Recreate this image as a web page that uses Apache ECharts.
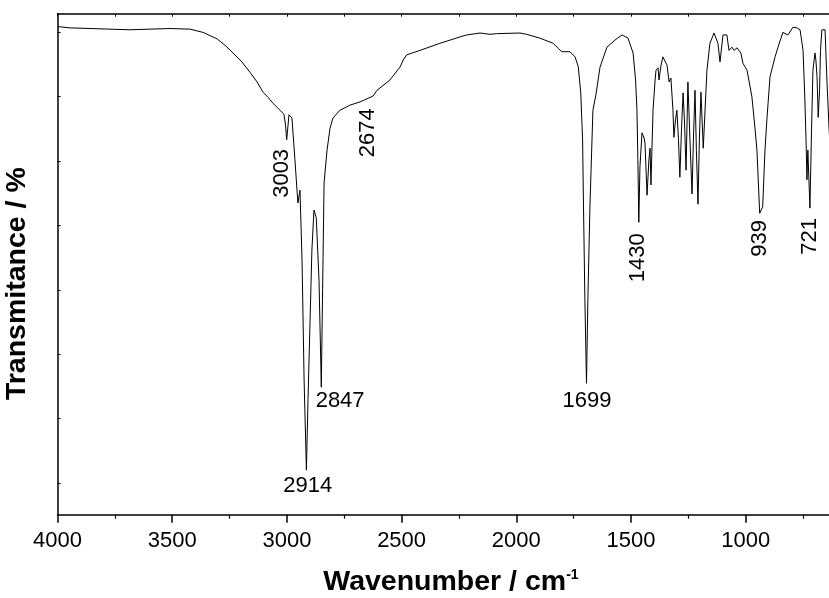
<!DOCTYPE html>
<html>
<head>
<meta charset="utf-8">
<script src="https://cdn.jsdelivr.net/npm/echarts@6/dist/echarts.min.js"></script>
<style>
  html, body { margin: 0; padding: 0; background: #fff; }
  #chart { width: 829px; height: 598px; }
</style>
</head>
<body>
<div id="chart"></div>
<script>
// IR spectrum
const wavenumber = [
  4000, 3946, 3858, 3771, 3684, 3597, 3510, 3422, 3366, 3305, 3270, 3235, 3196, 3161, 3130, 3104,
  3082, 3061, 3030, 3013, 3006, 3001, 2995, 2991, 2978, 2965, 2956, 2952, 2943, 2934, 2925, 2915,
  2908, 2899, 2891, 2882, 2875, 2872, 2867, 2860, 2850, 2845, 2838, 2825, 2812, 2799, 2769, 2725,
  2681, 2625, 2607, 2551, 2507, 2493, 2478, 2420, 2333, 2245, 2216, 2158, 2115, 2086, 1984, 1955,
  1897, 1839, 1817, 1802, 1766, 1744, 1730, 1719, 1711, 1707, 1701, 1694, 1688, 1679, 1666, 1653,
  1635, 1605, 1570, 1539, 1513, 1491, 1480, 1474, 1470, 1466, 1461, 1452, 1443, 1439, 1430, 1422,
  1417, 1413, 1404, 1395, 1391, 1382, 1378, 1369, 1361, 1343, 1334, 1326, 1317, 1313, 1306, 1300,
  1293, 1287, 1280, 1273, 1267, 1260, 1252, 1243, 1234, 1228, 1221, 1215, 1208, 1202, 1195, 1185,
  1169, 1156, 1138, 1121, 1112, 1099, 1082, 1073, 1060, 1051, 1038, 1021, 1012, 994, 973, 960,
  951, 939, 926, 916, 907, 894, 872, 859, 838, 816, 794, 777, 763, 750, 742, 737,
  733, 729, 720, 713, 707, 698, 694, 689, 684, 678, 674, 668, 654, 646, 637, 626
];
const transmittance = [
  80.9, 80.7, 80.6, 80.5, 80.4, 80.5, 80.6, 80.5, 80.0, 79.0, 78.0, 76.8, 75.4, 73.8, 72.3, 70.7,
  69.9, 69.0, 67.9, 67.3, 65.6, 63.3, 65.6, 67.2, 66.7, 60.2, 55.5, 53.5, 55.5, 44.6, 26.0, 12.0,
  22.9, 35.3, 46.2, 52.4, 52.1, 51.2, 51.3, 41.5, 24.9, 38.4, 56.6, 61.7, 65.1, 66.7, 67.9, 68.7,
  69.2, 70.1, 71.0, 72.6, 74.6, 75.7, 76.5, 77.2, 78.3, 79.3, 79.6, 79.9, 79.7, 79.8, 79.9, 79.7,
  79.1, 78.3, 77.5, 77.0, 77.0, 76.2, 74.7, 70.6, 63.3, 52.9, 38.4, 25.5, 38.4, 52.9, 67.9, 70.3,
  74.6, 77.7, 78.8, 79.6, 79.1, 76.8, 72.6, 67.9, 60.2, 50.5, 59.1, 64.4, 63.6, 62.8, 54.7, 60.2,
  62.0, 56.3, 67.9, 72.6, 74.1, 74.5, 72.6, 74.9, 76.2, 74.9, 72.3, 72.9, 67.9, 63.7, 66.4, 67.9,
  63.3, 57.5, 64.8, 70.6, 66.4, 58.6, 72.3, 63.3, 54.9, 63.3, 71.0, 61.7, 53.3, 63.3, 70.7, 62.0,
  74.1, 78.3, 79.9, 78.3, 75.4, 79.6, 79.6, 77.2, 77.7, 77.2, 77.6, 76.8, 75.2, 74.1, 70.0, 65.3,
  61.7, 51.9, 52.9, 61.7, 66.8, 73.1, 76.2, 77.7, 80.0, 79.6, 80.8, 80.7, 80.4, 77.2, 69.5, 63.3,
  57.1, 61.7, 52.7, 64.8, 74.1, 76.8, 75.7, 73.1, 66.8, 71.0, 77.2, 80.4, 80.4, 72.6, 65.3, 58.6
];
const xTicks = [500, 4000, 500];       // min, max, step of the bottom axis
const yTickValues = [10, 20, 30, 40, 50, 60, 70, 80];

// peak annotations
const peakText = ['3003', '2914', '2847', '2674', '1699', '1430', '939', '721'];
// where each annotation sits, in axis units
const peakAnchorX = [3023, 2909, 2768, 2646, 1692, 1469, 938, 720];
const peakAnchorY = [58.1, 9.6, 22.7, 64.4, 22.7, 45.0, 48.0, 48.3];
const peakRotate = [90, 0, 0, 90, 0, 90, 90, 90];

const FONT = 'Liberation Sans, Arial, sans-serif';

const chart = echarts.init(document.getElementById('chart'), null, { renderer: 'canvas' });

const spectrum = wavenumber.map((w, i) => [w, transmittance[i]]);
const peaks = peakText.map((t, i) => ({
  name: t,
  value: [peakAnchorX[i], peakAnchorY[i]],
  label: { rotate: peakRotate[i] }
}));

chart.setOption({
  animation: false,
  backgroundColor: '#fff',
  // right edge is past the window: the plot is cut at ~640 cm-1 like the original
  grid: { left: 57.5, right: -31.4, top: 13.7, bottom: 83.3, outerBoundsMode: 'none', containLabel: false },
  xAxis: [
    {
      type: 'value',
      inverse: true,
      min: xTicks[0],
      max: xTicks[1],
      interval: xTicks[2],
      name: '{t|Wavenumber / cm}{s|-1}',
      nameLocation: 'middle',
      nameGap: 53,
      nameTextStyle: {
        padding: [0, 16, 0, 0],
        rich: {
          t: { fontFamily: FONT, fontSize: 28.5, fontWeight: 'bold', color: '#000', verticalAlign: 'bottom' },
          s: { fontFamily: FONT, fontSize: 14, fontWeight: 'bold', color: '#000', verticalAlign: 'top' }
        }
      },
      axisLine: { lineStyle: { color: '#000', width: 1.5 } },
      axisTick: { length: 8, lineStyle: { color: '#000', width: 1.5 } },
      minorTick: { show: true, splitNumber: 2, length: 4, lineStyle: { color: '#000', width: 1.2 } },
      splitLine: { show: false },
      axisLabel: { fontFamily: FONT, fontSize: 22, color: '#000', margin: 15, formatter: v => String(v) }
    },
    {
      type: 'value',
      position: 'top',
      inverse: true,
      min: xTicks[0],
      max: xTicks[1],
      interval: xTicks[2] / 2,
      axisLine: { lineStyle: { color: '#000', width: 1.5 } },
      axisTick: { inside: true, length: 3, lineStyle: { color: '#000', width: 1 } },
      axisLabel: { show: false },
      splitLine: { show: false }
    }
  ],
  yAxis: {
    type: 'value',
    min: 5.08,
    max: 82.9,
    name: 'Transmitance / %',
    nameLocation: 'middle',
    nameGap: 26,
    nameTextStyle: { fontFamily: FONT, fontSize: 28.5, fontWeight: 'bold', color: '#000', padding: [0, 39, 0, 0] },
    axisLine: { show: true, lineStyle: { color: '#000', width: 1.5 } },
    axisTick: { show: true, inside: true, length: 3, customValues: yTickValues, lineStyle: { color: '#000', width: 1 } },
    axisLabel: { show: false },
    splitLine: { show: false }
  },
  series: [
    {
      name: 'spectrum',
      type: 'line',
      data: spectrum,
      showSymbol: false,
      symbol: 'none',
      lineStyle: { color: '#000', width: 1 },
      silent: true
    },
    {
      name: 'peaks',
      type: 'scatter',
      data: peaks,
      symbolSize: 0,
      silent: true,
      itemStyle: { opacity: 1 },
      label: {
        show: true,
        position: 'inside',
        formatter: '{b}',
        fontFamily: FONT,
        fontSize: 22,
        color: '#000',
        opacity: 1
      }
    }
  ]
});
</script>
</body>
</html>
